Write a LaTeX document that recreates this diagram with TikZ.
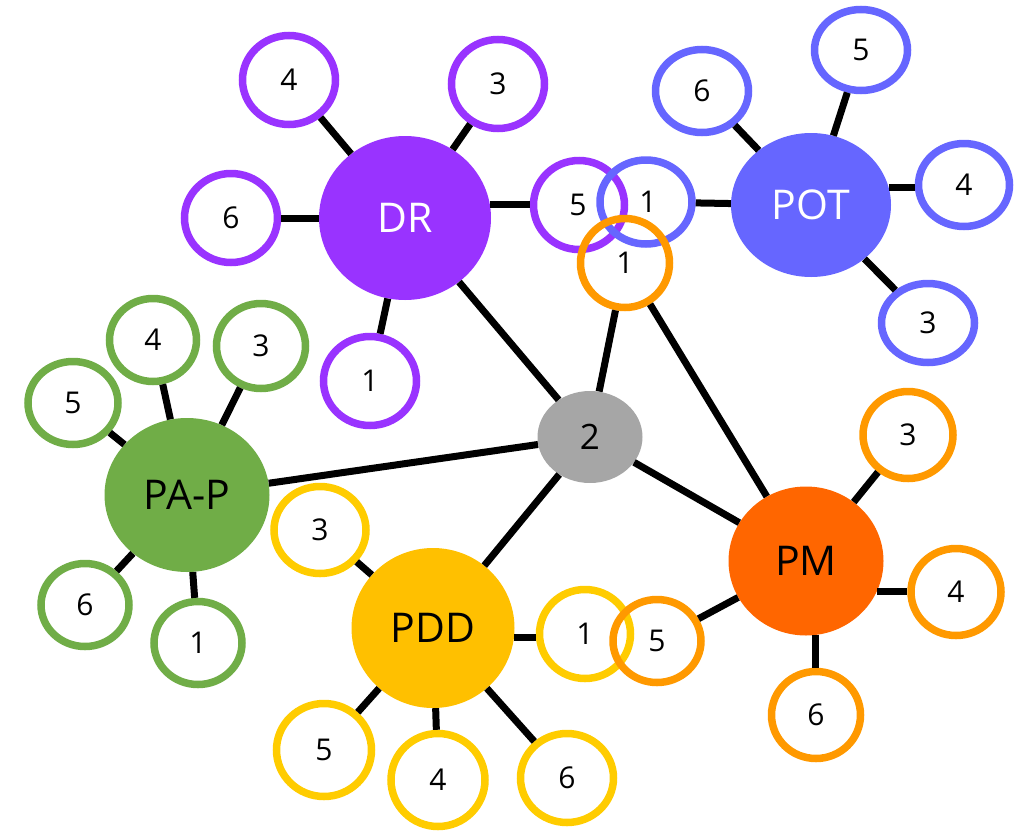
\documentclass[tikz,border=0pt]{standalone}
\usepackage{fontspec}
\setmainfont{Open Sans}
\usetikzlibrary{shapes.geometric}
\definecolor{cpurple}{HTML}{9933FF}
\definecolor{cblue}{HTML}{6666FF}
\definecolor{cgreen}{HTML}{70AD47}
\definecolor{cyelfill}{HTML}{FFC000}
\definecolor{cyelring}{HTML}{FFCC00}
\definecolor{corange}{HTML}{FF9900}
\definecolor{cred}{HTML}{FF6600}
\definecolor{cgray}{HTML}{A6A6A6}
\tikzset{
  ring/.style={ellipse, draw=#1, line width=7.5pt, inner sep=0pt,
    minimum width=93pt, minimum height=89pt,
    font=\fontsize{30}{32}\selectfont},
  hub/.style={ellipse, fill=#1, inner sep=0pt,
    font=\fontsize{41}{44}\selectfont},
  link/.style={line width=7pt, black},
}
\begin{document}
\begin{tikzpicture}[x=1pt,y=-1pt]
\useasboundingbox (0,0) rectangle (1026,836);

% hubs
\node[hub=cpurple, minimum width=172pt, minimum height=164pt, text=white] (dr) at (405,218) {DR};
\node[hub=cblue, minimum width=160pt, minimum height=144pt, text=white] (pot) at (811,205) {POT};
\node[hub=cgreen, minimum width=165pt, minimum height=154pt] (pap) at (187,495) {PA-P};
\node[hub=cyelfill, minimum width=163pt, minimum height=160pt] (pdd) at (433,628) {PDD};
\node[hub=cred, minimum width=155pt, minimum height=149pt] (pm) at (806,561) {PM};
\node[hub=cgray, minimum width=105pt, minimum height=92pt, font=\fontsize{35}{38}\selectfont] (two) at (590,437) {2};

% DR leaves
\node[ring=cpurple] (dr4) at (289,80) {4};
\node[ring=cpurple] (dr3) at (498,84) {3};
\node[ring=cpurple] (dr6) at (231,218) {6};
\node[ring=cpurple] (dr1) at (370,381) {1};
\node[ring=cpurple, minimum width=91pt] (dr5) at (579,205) {\hspace*{-2pt}5};

% POT leaves
\node[ring=cblue, minimum height=83pt] (pot6) at (702,91) {6};
\node[ring=cblue, minimum height=81pt] (pot5) at (861,50) {5};
\node[ring=cblue, minimum width=91pt, minimum height=83pt] (pot4) at (964,185) {4};
\node[ring=cblue, minimum height=79pt] (pot3) at (928,323) {3};
\node[ring=cblue, minimum width=92pt, minimum height=84pt] (pot1) at (646,202) {\hspace*{4pt}1};

% shared orange leaf
\node[ring=corange, minimum width=89pt] (o1) at (625,263) {1};

% PA-P leaves
\node[ring=cgreen, minimum width=90pt, minimum height=83pt] (pap5) at (73,403) {5};
\node[ring=cgreen, minimum width=87pt, minimum height=83pt] (pap4) at (153,340) {4};
\node[ring=cgreen, minimum width=89pt, minimum height=85pt] (pap3) at (261,346) {3};
\node[ring=cgreen, minimum width=88pt, minimum height=83pt] (pap6) at (85,605) {6};
\node[ring=cgreen, minimum width=88pt, minimum height=83pt] (pap1) at (198,643) {1};

% PDD leaves
\node[ring=cyelring, minimum width=92pt, minimum height=87pt] (pdd3) at (320,530) {3};
\node[ring=cyelring, minimum width=95pt, minimum height=93pt] (pdd5) at (324,750) {5};
\node[ring=cyelring, minimum width=94pt, minimum height=93pt] (pdd4) at (438,780) {4};
\node[ring=cyelring, minimum width=93pt, minimum height=89pt] (pdd6) at (567,778) {6};
\node[ring=cyelring, minimum width=91pt, minimum height=89pt] (pdd1) at (585,634) {1};

% PM leaves
\node[ring=corange, minimum width=90pt, minimum height=87pt] (pm3) at (908,435) {3};
\node[ring=corange, minimum width=90pt, minimum height=87pt] (pm4) at (956,592) {4};
\node[ring=corange, minimum width=89pt, minimum height=87pt] (pm6) at (816,715) {6};
\node[ring=corange, minimum width=88pt, minimum height=83pt] (pm5) at (657,641) {5};

% spokes running centre to centre
\foreach \a/\b in {dr/dr4, dr/dr3, dr/dr6, dr/dr1,
                   pot/pot6, pot/pot5, pot/pot3, pot/pot1,
                   pap/pap5, pap/pap4, pap/pap3, pap/pap6, pap/pap1,
                   pdd/pdd3, pdd/pdd5, pdd/pdd4, pdd/pdd6,
                   pm/pm3, pm/pm5}
  \draw[link] (\a) -- (\b);

% straight horizontal / vertical spokes
\draw[link] (dr.9) -- (dr5.west |- dr.9);
\draw[link] (pot.13) -- (pot4.west |- pot.13);
\draw[link] (pdd.-7) -- (pdd1.west |- pdd.-7);
\draw[link] (pm.-23) -- (pm4.west |- pm.-23);
\draw[link] (pm.-83) -- (pm6.north -| pm.-83);

% cross links
\draw[link] (dr) -- (two);
\draw[link] (o1) -- (two);
\draw[link] (o1) -- (pm);
\draw[link] (two) -- (pap);
\draw[link] (two) -- (pdd);
\draw[link] (two) -- (pm);
\end{tikzpicture}
\end{document}
